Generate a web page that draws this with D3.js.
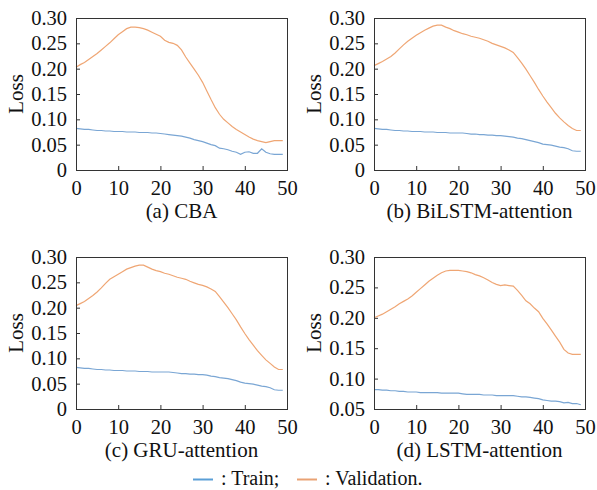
<!DOCTYPE html>
<html>
<head>
<meta charset="utf-8">
<script src="https://cdn.jsdelivr.net/npm/d3@7"></script>
<style>
  body { margin: 0; background: #fff; }
  svg { display: block; font-family: "Liberation Serif", "Times New Roman", serif; }
</style>
</head>
<body>
<div id="chart"></div>
<script>
// epochs 0..49
var epochs = d3.range(0, 50);

// (a) CBA
var cbaTrain = [0.082, 0.081, 0.080, 0.080, 0.079, 0.078, 0.078, 0.077, 0.077, 0.076,
	0.076, 0.076, 0.075, 0.075, 0.075, 0.074, 0.074, 0.074, 0.073, 0.073,
	0.072, 0.071, 0.070, 0.069, 0.068, 0.067, 0.065, 0.063, 0.060, 0.058,
	0.056, 0.053, 0.050, 0.048, 0.043, 0.042, 0.040, 0.037, 0.035, 0.031,
	0.035, 0.036, 0.033, 0.033, 0.042, 0.035, 0.032, 0.031, 0.031, 0.031];
var cbaVal = [0.203, 0.208, 0.212, 0.218, 0.224, 0.230, 0.237, 0.244, 0.251, 0.259,
	0.267, 0.273, 0.279, 0.282, 0.282, 0.281, 0.279, 0.276, 0.272, 0.268,
	0.264, 0.256, 0.252, 0.250, 0.246, 0.237, 0.223, 0.211, 0.199, 0.187,
	0.173, 0.156, 0.139, 0.123, 0.110, 0.100, 0.093, 0.086, 0.080, 0.075,
	0.070, 0.065, 0.061, 0.058, 0.056, 0.054, 0.056, 0.058, 0.058, 0.058];

// (b) BiLSTM-attention
var bilstmTrain = [0.082, 0.081, 0.080, 0.080, 0.079, 0.078, 0.078, 0.077, 0.077, 0.076,
	0.076, 0.076, 0.075, 0.075, 0.075, 0.074, 0.074, 0.074, 0.073, 0.073,
	0.073, 0.073, 0.072, 0.071, 0.071, 0.070, 0.070, 0.069, 0.069, 0.068,
	0.068, 0.067, 0.066, 0.065, 0.063, 0.062, 0.060, 0.058, 0.056, 0.054,
	0.051, 0.050, 0.049, 0.047, 0.045, 0.044, 0.042, 0.038, 0.037, 0.037];
var bilstmVal = [0.206, 0.210, 0.214, 0.219, 0.224, 0.231, 0.239, 0.247, 0.254, 0.260,
	0.266, 0.271, 0.276, 0.280, 0.284, 0.286, 0.286, 0.282, 0.279, 0.275,
	0.272, 0.269, 0.267, 0.264, 0.262, 0.260, 0.257, 0.254, 0.250, 0.247,
	0.244, 0.241, 0.237, 0.232, 0.222, 0.211, 0.199, 0.186, 0.173, 0.159,
	0.146, 0.134, 0.123, 0.112, 0.103, 0.095, 0.088, 0.082, 0.078, 0.078];

// (c) GRU-attention
var gruTrain = [0.082, 0.081, 0.080, 0.080, 0.079, 0.078, 0.078, 0.077, 0.077, 0.076,
	0.076, 0.076, 0.075, 0.075, 0.075, 0.074, 0.074, 0.074, 0.073, 0.073,
	0.073, 0.073, 0.073, 0.072, 0.071, 0.070, 0.070, 0.069, 0.069, 0.068,
	0.068, 0.067, 0.065, 0.064, 0.062, 0.061, 0.060, 0.058, 0.056, 0.053,
	0.051, 0.050, 0.049, 0.047, 0.045, 0.044, 0.042, 0.038, 0.037, 0.037];
var gruVal = [0.204, 0.208, 0.212, 0.218, 0.224, 0.231, 0.239, 0.248, 0.256, 0.261,
	0.266, 0.271, 0.276, 0.279, 0.282, 0.284, 0.284, 0.280, 0.276, 0.273,
	0.271, 0.268, 0.266, 0.263, 0.260, 0.258, 0.256, 0.252, 0.249, 0.246,
	0.244, 0.241, 0.237, 0.232, 0.222, 0.211, 0.200, 0.188, 0.176, 0.162,
	0.149, 0.137, 0.126, 0.115, 0.106, 0.097, 0.090, 0.083, 0.078, 0.078];

// (d) LSTM-attention
var lstmTrain = [0.082, 0.082, 0.081, 0.081, 0.080, 0.080, 0.079, 0.079, 0.078, 0.078,
	0.078, 0.077, 0.077, 0.077, 0.077, 0.077, 0.076, 0.076, 0.076, 0.076,
	0.076, 0.075, 0.074, 0.074, 0.074, 0.074, 0.073, 0.073, 0.073, 0.072,
	0.072, 0.072, 0.072, 0.072, 0.071, 0.070, 0.070, 0.069, 0.068, 0.067,
	0.065, 0.064, 0.063, 0.063, 0.062, 0.060, 0.061, 0.059, 0.059, 0.057];
var lstmVal = [0.200, 0.203, 0.206, 0.210, 0.214, 0.218, 0.223, 0.227, 0.231, 0.236,
	0.242, 0.248, 0.254, 0.260, 0.265, 0.270, 0.274, 0.277, 0.278, 0.278,
	0.278, 0.277, 0.276, 0.274, 0.271, 0.269, 0.266, 0.262, 0.258, 0.255,
	0.253, 0.254, 0.253, 0.252, 0.245, 0.237, 0.228, 0.223, 0.216, 0.210,
	0.199, 0.190, 0.180, 0.170, 0.160, 0.148, 0.142, 0.140, 0.140, 0.140];

var xTicks = [0, 10, 20, 30, 40, 50];
var yTicksFull = [0, 0.05, 0.10, 0.15, 0.20, 0.25, 0.30];
var yTicksShort = [0.05, 0.10, 0.15, 0.20, 0.25, 0.30];

var trainColor = "#7aa6d4";
var valColor = "#efa674";

var panels = [
	{ caption: "(a) CBA", train: cbaTrain, val: cbaVal, yDomain: [0, 0.30], yTicks: yTicksFull, left: 76, top: 18 },
	{ caption: "(b) BiLSTM-attention", train: bilstmTrain, val: bilstmVal, yDomain: [0, 0.30], yTicks: yTicksFull, left: 374, top: 18 },
	{ caption: "(c) GRU-attention", train: gruTrain, val: gruVal, yDomain: [0, 0.30], yTicks: yTicksFull, left: 76, top: 257 },
	{ caption: "(d) LSTM-attention", train: lstmTrain, val: lstmVal, yDomain: [0.05, 0.30], yTicks: yTicksShort, left: 374, top: 257 }
];

var width = 211,
	height = 152;

var svg = d3.select("#chart").append("svg")
	.attr("width", 597)
	.attr("height", 490);

var drawPanel = function(p) {
	var g = svg.append("g")
		.attr("transform", "translate(" + p.left + "," + p.top + ")");

	var xScale = d3.scaleLinear().domain([0, 50]).range([0, width]);
	var yScale = d3.scaleLinear().domain(p.yDomain).range([height, 0]);

	// ticks point inward
	var xAxis = d3.axisBottom(xScale)
		.tickValues(xTicks)
		.tickSizeInner(-4)
		.tickSizeOuter(0)
		.tickPadding(10)
		.tickFormat(d3.format("d"));

	var yAxis = d3.axisLeft(yScale)
		.tickValues(p.yTicks)
		.tickSizeInner(-4)
		.tickSizeOuter(0)
		.tickPadding(9)
		.tickFormat(function(d) {
			return d === 0 ? "0" : d3.format(".2f")(d);
		});

	var gx = g.append("g")
		.attr("transform", "translate(0," + height + ")")
		.call(xAxis);
	var gy = g.append("g").call(yAxis);

	[gx, gy].forEach(function(a) {
		a.select(".domain").remove();
		a.selectAll("line").attr("stroke", "#333");
		a.selectAll("text")
			.attr("fill", "#111")
			.style("font-size", "20.5px")
			.style("font-family", "'Liberation Serif', serif");
	});

	var line = d3.line()
		.x(function(d, i) { return xScale(epochs[i]); })
		.y(function(d) { return yScale(d); });

	g.append("path")
		.datum(p.train)
		.attr("fill", "none")
		.attr("stroke", trainColor)
		.attr("stroke-width", 1.2)
		.attr("d", line);

	g.append("path")
		.datum(p.val)
		.attr("fill", "none")
		.attr("stroke", valColor)
		.attr("stroke-width", 1.2)
		.attr("d", line);

	// frame
	g.append("rect")
		.attr("x", 0.5)
		.attr("y", 0.5)
		.attr("width", width)
		.attr("height", height)
		.attr("fill", "none")
		.attr("stroke", "#333")
		.attr("stroke-width", 1);

	g.append("text")
		.attr("transform", "translate(-53," + (height / 2) + ") rotate(-90)")
		.attr("text-anchor", "middle")
		.attr("fill", "#111")
		.style("font-size", "21px")
		.text("Loss");

	g.append("text")
		.attr("x", width / 2)
		.attr("y", height + 48)
		.attr("text-anchor", "middle")
		.attr("fill", "#111")
		.style("font-size", "21px")
		.text(p.caption);
};

panels.forEach(drawPanel);

// legend
var legendItems = [
	{ label: ": Train;", color: "#5a9fd6", x: 193 },
	{ label: ": Validation.", color: "#e9a274", x: 297 }
];

var legend = svg.selectAll(".legend")
	.data(legendItems)
	.enter()
	.append("g")
	.attr("class", "legend")
	.attr("transform", function(d) { return "translate(" + d.x + ",479)"; });

legend.append("line")
	.attr("x1", 0)
	.attr("x2", 20)
	.attr("y1", 0.5)
	.attr("y2", 0.5)
	.attr("stroke", function(d) { return d.color; })
	.attr("stroke-width", 2);

legend.append("text")
	.attr("x", 28)
	.attr("y", 6)
	.attr("fill", "#111")
	.style("font-size", "20px")
	.text(function(d) { return d.label; });
</script>
</body>
</html>
